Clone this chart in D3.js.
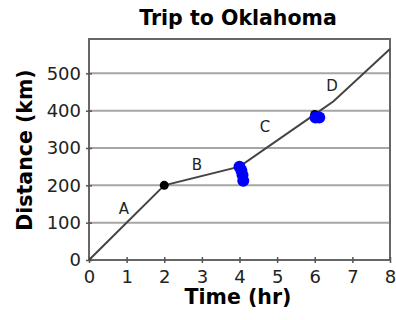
<!DOCTYPE html>
<html><head><meta charset="utf-8">
<script src="https://cdn.jsdelivr.net/npm/d3@7"></script>
<style>body{margin:0;background:#fff}svg{display:block}</style>
</head><body>
<script>
const times = [0, 2, 4, 6, 6.5, 8];
const distances = [0, 200, 250, 390, 425, 565];
const dotTimes = [2, 6];
const dotDistances = [200, 390];
const markTimes = [4.0, 4.05, 4.08, 4.1, 6.02, 6.12];
const markDistances = [250, 240, 228, 212, 382, 382];
const segLabels = ["A", "B", "C", "D"];
const segLabelTimes = [0.93, 2.87, 4.68, 6.46];
const segLabelDist = [137, 255, 355, 465];
const xTicks = [0,1,2,3,4,5,6,7,8];
const yTicks = [0,100,200,300,400,500];

const W = 396, H = 320;
const m = {l: 89, r: 6, t: 39, b: 60};
const svg = d3.select("body").append("svg").attr("width", W).attr("height", H);
const x = d3.scaleLinear().domain([0, 8]).range([m.l, W - m.r]);
const y = d3.scaleLinear().domain([0, 592]).range([H - m.b, m.t]);
const font = "DejaVu Sans, Verdana, sans-serif";

// grid
svg.append("g").selectAll("line").data(yTicks.slice(1)).join("line")
  .attr("x1", x(0)).attr("x2", x(8)).attr("y1", d => y(d)).attr("y2", d => y(d))
  .attr("stroke", "#a6a6a6").attr("stroke-width", 2);

// frame
svg.append("rect").attr("x", x(0)).attr("y", y(592)).attr("width", x(8) - x(0)).attr("height", y(0) - y(592))
  .attr("fill", "none").attr("stroke", "#666").attr("stroke-width", 2);

// axes
const xa = svg.append("g").attr("transform", `translate(0,${y(0)})`)
  .call(d3.axisBottom(x).tickValues(xTicks).tickSize(6).tickSizeOuter(0).tickFormat(d3.format("d")));
xa.select(".domain").remove();
xa.selectAll(".tick line").attr("stroke", "#555").attr("stroke-width", 1.5).attr("transform", "translate(0,-3)");
xa.selectAll("text").attr("font-family", font).attr("font-size", 18).attr("fill", "#222").attr("dy", "0.65em").attr("y", 11);

const ya = svg.append("g").attr("transform", `translate(${x(0)},0)`)
  .call(d3.axisLeft(y).tickValues(yTicks).tickSize(6).tickSizeOuter(0));
ya.select(".domain").remove();
ya.selectAll(".tick line").attr("stroke", "#555").attr("stroke-width", 1.5).attr("transform", "translate(3,0)");
ya.selectAll("text").attr("font-family", font).attr("font-size", 18).attr("fill", "#222").attr("x", -8);

// line
svg.append("path").datum(times.map((t, i) => [t, distances[i]]))
  .attr("d", d3.line().x(d => x(d[0])).y(d => y(d[1])))
  .attr("fill", "none").attr("stroke", "#444").attr("stroke-width", 2);

// black dots
svg.append("g").selectAll("circle").data(dotTimes).join("circle")
  .attr("cx", d => x(d)).attr("cy", (d, i) => y(dotDistances[i])).attr("r", 4.5).attr("fill", "#000");

// blue marks
svg.append("g").selectAll("circle").data(markTimes).join("circle")
  .attr("cx", d => x(d)).attr("cy", (d, i) => y(markDistances[i])).attr("r", 6).attr("fill", "#0000ff");

// segment labels
svg.append("g").selectAll("text").data(segLabels).join("text")
  .attr("x", (d, i) => x(segLabelTimes[i])).attr("y", (d, i) => y(segLabelDist[i]))
  .attr("text-anchor", "middle").attr("dominant-baseline", "central")
  .attr("font-family", font).attr("font-size", 15).attr("fill", "#222").text(d => d);

// titles
svg.append("text").attr("x", 238).attr("y", 25).attr("text-anchor", "middle")
  .attr("font-family", font).attr("font-weight", "bold").attr("font-size", 20.5).text("Trip to Oklahoma");
svg.append("text").attr("x", 238).attr("y", 304).attr("text-anchor", "middle")
  .attr("font-family", font).attr("font-weight", "bold").attr("font-size", 20.5).text("Time (hr)");
svg.append("text").attr("transform", "translate(32,150) rotate(-90)").attr("text-anchor", "middle")
  .attr("font-family", font).attr("font-weight", "bold").attr("font-size", 20.5).text("Distance (km)");
</script>
</body></html>
